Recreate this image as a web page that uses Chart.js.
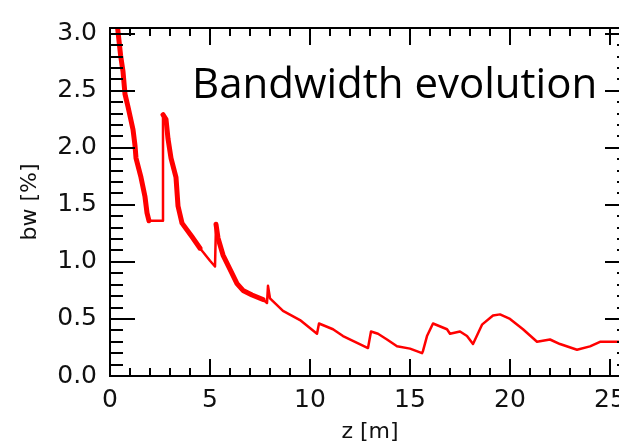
<!DOCTYPE html>
<html>
<head>
<meta charset="utf-8">
<script src="https://cdn.jsdelivr.net/npm/chart.js@4/dist/chart.umd.min.js"></script>
<style>
  html, body { margin: 0; padding: 0; background: #fff; overflow: hidden; width: 619px; height: 447px; }
  #wrap { position: absolute; left: 0; top: 0; width: 660px; height: 447px; }
  #note { position: absolute; left: 192px; top: 61px; font-family: "Open Sans", sans-serif; font-size: 42px; line-height: 1; color: #000; white-space: nowrap; }
</style>
</head>
<body>
<div id="wrap"><canvas id="c" width="660" height="447"></canvas></div>
<div id="note">Bandwidth evolution</div>
<script>
// z position [m]
const zValues = [0.35, 0.53, 0.65, 0.75, 0.9, 1.15, 1.25, 1.3, 1.55, 1.75, 1.85, 1.95, 2.65, 2.65, 2.8, 2.9, 3.05, 3.3, 3.4, 3.6, 4.1, 4.5, 5.0, 5.25, 5.3, 5.4, 5.65, 6.1, 6.35, 6.65, 7.1, 7.65, 7.85, 7.9, 8.0, 8.65, 9.5, 10.35, 10.45, 11.15, 11.65, 12.25, 12.9, 13.05, 13.4, 13.85, 14.35, 15.0, 15.6, 15.65, 15.85, 16.15, 16.85, 17.0, 17.5, 17.85, 18.15, 18.6, 19.15, 19.5, 20.0, 20.65, 21.35, 22.0, 22.5, 23.35, 24.0, 24.5, 25.35, 26.0];
// bandwidth [%]
const bwValues = [3.1, 2.81, 2.67, 2.47, 2.36, 2.16, 2.02, 1.91, 1.74, 1.57, 1.43, 1.36, 1.36, 2.29, 2.25, 2.08, 1.91, 1.74, 1.49, 1.34, 1.22, 1.12, 1.01, 0.96, 1.33, 1.21, 1.06, 0.90, 0.81, 0.75, 0.71, 0.67, 0.64, 0.79, 0.68, 0.57, 0.49, 0.37, 0.46, 0.41, 0.35, 0.30, 0.245, 0.39, 0.37, 0.32, 0.26, 0.24, 0.20, 0.22, 0.35, 0.46, 0.41, 0.37, 0.39, 0.35, 0.28, 0.45, 0.53, 0.54, 0.50, 0.41, 0.30, 0.32, 0.28, 0.23, 0.26, 0.30, 0.30, 0.30];
const xTickLabels = [0, 5, 10, 15, 20, 25];
const yTickLabels = [0.0, 0.5, 1.0, 1.5, 2.0, 2.5, 3.0];

// index ranges where the trace looks thick / noisy (styling only)
const thickRanges = [[0, 11], [13, 21], [24, 31]];
const isThick = i => thickRanges.some(([a, b]) => i >= a && i <= b);

const points = zValues.map((z, i) => ({ x: z, y: bwValues[i] }));
const thickPoints = zValues.map((z, i) => ({ x: z, y: isThick(i) ? bwValues[i] : null }));

const frameTicks = {
  id: 'frameTicks',
  afterDraw(chart) {
    const ctx = chart.ctx;
    const a = chart.chartArea;
    const xs = chart.scales.x, ys = chart.scales.y;
    ctx.save();
    ctx.strokeStyle = '#000';
    ctx.lineWidth = 2;
    ctx.strokeRect(a.left, a.top, a.right - a.left, a.bottom - a.top);
    ctx.beginPath();
    for (let v = 0; v <= 26.001; v += 1) {
      const px = Math.round(xs.getPixelForValue(v));
      const major = Math.abs(v % 5) < 1e-6;
      const l = major ? 17 : 8;
      ctx.moveTo(px, a.bottom); ctx.lineTo(px, a.bottom - l);
      ctx.moveTo(px, a.top); ctx.lineTo(px, a.top + l);
    }
    for (let i = 0; i <= 30; i++) {
      const v = i / 10;
      const py = Math.round(ys.getPixelForValue(v));
      const major = i % 5 === 0;
      const l = major ? 25 : 13;
      ctx.moveTo(a.left, py); ctx.lineTo(a.left + l, py);
      ctx.moveTo(a.right, py); ctx.lineTo(a.right - l, py);
    }
    ctx.stroke();
    ctx.restore();
  }
};

new Chart(document.getElementById('c'), {
  type: 'line',
  data: {
    datasets: [{
      data: points,
      borderColor: '#ff0000',
      borderWidth: 2.5,
      borderJoinStyle: 'round',
      pointRadius: 0,
      tension: 0,
      fill: false
    }, {
      data: thickPoints,
      borderColor: '#ff0000',
      borderWidth: 5,
      borderJoinStyle: 'round',
      borderCapStyle: 'round',
      spanGaps: false,
      pointRadius: 0,
      tension: 0,
      fill: false
    }]
  },
  options: {
    responsive: false,
    animation: false,
    events: [],
    layout: { padding: { top: 15, right: 30, left: 0, bottom: 0 } },
    plugins: { legend: { display: false }, tooltip: { enabled: false } },
    scales: {
      x: {
        type: 'linear',
        min: 0, max: 26,
        afterFit(s) { s.height = 71; },
        afterBuildTicks(s) { s.ticks = xTickLabels.map(v => ({ value: v })); },
        grid: { display: false, drawTicks: false },
        border: { display: false },
        ticks: {
          padding: 9,
          color: '#111',
          font: { family: 'DejaVu Sans', size: 25 },
          maxRotation: 0,
          autoSkip: false,
          callback: v => String(v)
        },
        title: {
          display: true,
          text: 'z [m]',
          color: '#111',
          font: { family: 'DejaVu Sans', size: 22 },
          padding: { top: 0, bottom: 2 }
        }
      },
      y: {
        type: 'linear',
        min: 0, max: 3.05,
        afterFit(s) { s.width = 110; },
        afterBuildTicks(s) { s.ticks = yTickLabels.map(v => ({ value: v })); },
        grid: { display: false, drawTicks: false },
        border: { display: false },
        ticks: {
          padding: 13,
          color: '#111',
          font: { family: 'DejaVu Sans', size: 25 },
          autoSkip: false,
          callback: v => Number(v).toFixed(1)
        },
        title: {
          display: true,
          text: 'bw [%]',
          color: '#111',
          font: { family: 'DejaVu Sans', size: 22 },
          padding: { top: 17, bottom: 0 }
        }
      }
    }
  },
  plugins: [frameTicks]
});
</script>
</body>
</html>
